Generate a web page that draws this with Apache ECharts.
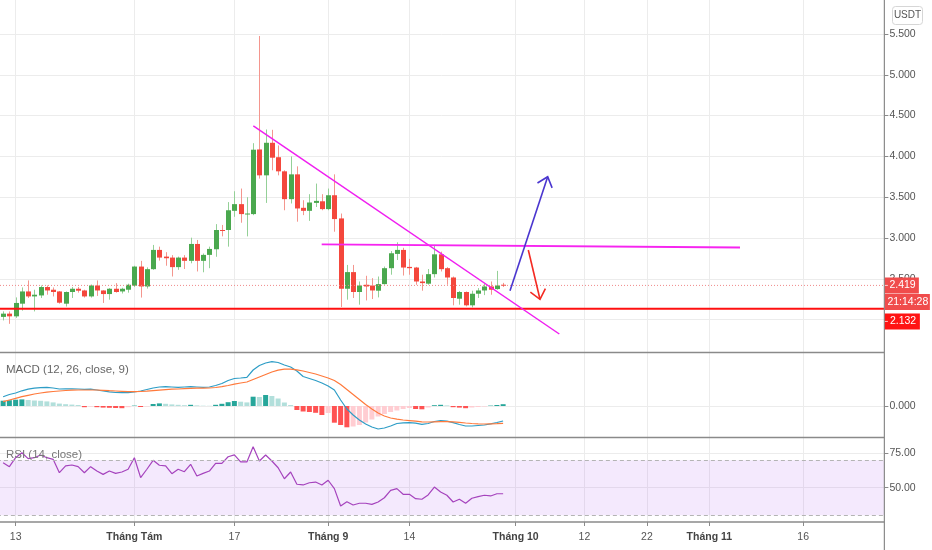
<!DOCTYPE html>
<html>
<head>
<meta charset="utf-8">
<script src="https://cdn.jsdelivr.net/npm/echarts@6/dist/echarts.min.js"></script>
<style>
html,body{margin:0;padding:0;background:#ffffff;}
#c{width:932px;height:550px;}
</style>
</head>
<body>
<div id="c"></div>
<script>
// ---------------- DATA ----------------
// axis domain: daily categories from 10 Jul to 29 Nov (one empty pad day before the first candle)
const axisStart = [2020, 6, 10];
const axisDays = 143;

// bottom axis tick labels
const tickDates = ['07-13', '08-01', '08-17', '09-01', '09-14', '10-01', '10-12', '10-22', '11-01', '11-16'];
const tickTexts = ['13', 'Tháng Tám', '17', 'Tháng 9', '14', 'Tháng 10', '12', '22', 'Tháng 11', '16'];
const tickIsMonth = [false, true, false, true, false, true, false, false, true, false];

// daily candles, 11 Jul .. 29 Sep
const opens = [2.033,2.073,2.040,2.195,2.345,2.284,2.296,2.399,2.366,2.345,
  2.195,2.338,2.378,2.357,2.284,2.418,2.357,2.313,2.378,2.345,
  2.366,2.415,2.650,2.406,2.618,2.854,2.772,2.760,2.643,2.760,
  2.720,2.927,2.720,2.793,2.862,3.098,3.098,3.333,3.415,3.293,
  3.293,4.085,3.768,4.167,3.990,3.817,3.476,3.780,3.370,3.333,
  3.430,3.450,3.354,3.524,3.240,2.378,2.582,2.338,2.427,2.418,
  2.354,2.435,2.630,2.805,2.854,2.646,2.638,2.467,2.440,2.557,
  2.800,2.630,2.516,2.256,2.338,2.175,2.317,2.357,2.406,2.374,
  2.427];
const highs = [2.101,2.100,2.272,2.394,2.480,2.366,2.418,2.418,2.394,2.350,
  2.345,2.400,2.400,2.366,2.430,2.480,2.360,2.386,2.447,2.390,
  2.440,2.660,2.720,2.640,2.915,2.894,2.826,2.790,2.772,2.790,
  3.004,2.976,2.810,2.894,3.170,3.160,3.440,3.573,3.606,3.500,
  4.162,5.476,4.330,4.326,4.134,3.830,4.000,3.878,3.463,3.537,
  3.667,3.537,3.606,3.780,3.300,2.670,2.670,2.467,2.537,2.508,
  2.528,2.650,2.840,2.947,2.880,2.744,2.646,2.550,2.620,2.915,
  2.833,2.643,2.528,2.350,2.345,2.354,2.386,2.440,2.467,2.597,
  2.450];
const lows = [1.990,1.948,2.021,2.110,2.265,2.100,2.265,2.305,2.284,2.195,
  2.160,2.265,2.330,2.270,2.270,2.290,2.204,2.244,2.330,2.320,
  2.330,2.400,2.270,2.380,2.610,2.723,2.660,2.528,2.610,2.620,
  2.690,2.590,2.580,2.630,2.770,3.020,2.894,3.260,3.187,3.020,
  3.280,3.728,3.430,3.830,3.768,3.340,3.423,3.200,3.280,3.210,
  3.380,3.340,3.340,3.077,2.155,2.244,2.265,2.183,2.235,2.252,
  2.272,2.427,2.550,2.730,2.540,2.550,2.427,2.354,2.427,2.516,
  2.590,2.427,2.175,2.183,2.162,2.150,2.265,2.300,2.305,2.366,
  2.400];
const closes = [2.073,2.040,2.204,2.345,2.284,2.305,2.399,2.357,2.338,2.207,
  2.338,2.378,2.354,2.284,2.418,2.357,2.313,2.378,2.338,2.378,
  2.427,2.650,2.406,2.618,2.854,2.760,2.752,2.643,2.760,2.720,
  2.927,2.720,2.793,2.866,3.098,3.090,3.340,3.415,3.293,3.300,
  4.082,3.768,4.167,3.984,3.817,3.476,3.780,3.362,3.333,3.435,
  3.455,3.354,3.524,3.232,2.378,2.582,2.338,2.418,2.406,2.357,
  2.435,2.630,2.813,2.854,2.638,2.630,2.467,2.447,2.557,2.800,
  2.618,2.516,2.265,2.338,2.175,2.317,2.357,2.406,2.366,2.418,
  2.419];

// MACD (12, 26, close, 9)
const macdLine = [0.093,0.115,0.130,0.152,0.168,0.178,0.184,0.187,0.180,0.170,
  0.172,0.172,0.170,0.167,0.168,0.160,0.150,0.142,0.135,0.133,
  0.133,0.140,0.150,0.165,0.180,0.190,0.193,0.190,0.187,0.190,
  0.193,0.190,0.187,0.190,0.205,0.225,0.255,0.275,0.280,0.287,
  0.360,0.405,0.430,0.443,0.435,0.410,0.390,0.350,0.295,0.275,
  0.255,0.230,0.200,0.160,0.060,-0.030,-0.090,-0.140,-0.180,-0.210,
  -0.230,-0.220,-0.200,-0.175,-0.168,-0.166,-0.172,-0.183,-0.175,-0.155,
  -0.145,-0.152,-0.167,-0.185,-0.200,-0.200,-0.195,-0.190,-0.178,-0.165,
  -0.150];
const signalLine = [0.043,0.060,0.077,0.093,0.107,0.120,0.130,0.138,0.145,0.150,
  0.155,0.158,0.160,0.160,0.160,0.160,0.157,0.153,0.150,0.147,
  0.144,0.143,0.145,0.148,0.153,0.158,0.163,0.168,0.170,0.173,
  0.176,0.178,0.178,0.180,0.185,0.193,0.205,0.218,0.230,0.240,
  0.265,0.290,0.315,0.340,0.358,0.368,0.368,0.362,0.350,0.335,
  0.320,0.300,0.280,0.255,0.215,0.165,0.115,0.065,0.015,-0.030,
  -0.070,-0.100,-0.120,-0.132,-0.140,-0.146,-0.152,-0.158,-0.160,-0.158,
  -0.156,-0.156,-0.158,-0.163,-0.170,-0.175,-0.178,-0.180,-0.178,-0.176,
  -0.173];
const macdHist = [0.053,0.058,0.063,0.066,0.060,0.055,0.052,0.046,0.036,0.024,
  0.018,0.014,0.010,-0.012,-0.006,-0.012,-0.016,-0.018,-0.020,-0.022,
  -0.012,0.004,-0.010,-0.004,0.020,0.026,0.022,0.016,0.012,0.008,
  0.012,0.006,0.003,0.002,0.012,0.022,0.038,0.050,0.043,0.036,
  0.093,0.090,0.110,0.100,0.075,0.035,0.010,-0.040,-0.055,-0.060,
  -0.068,-0.090,-0.070,-0.167,-0.190,-0.213,-0.205,-0.190,-0.165,-0.135,
  -0.105,-0.080,-0.060,-0.045,-0.030,-0.020,-0.030,-0.033,-0.015,0.008,
  0.012,0.006,-0.012,-0.016,-0.022,-0.015,-0.010,-0.005,0.004,0.010,
  0.018];

// RSI (14, close)
const rsiValues = [68.2,65.3,71.8,75.4,71.1,71.8,73.8,71.8,70.6,60.9,
  65.8,66.5,65.3,60.9,65.3,62.1,59.7,62.1,60.4,61.4,
  63.4,71.8,57.3,63.4,69.9,66.3,65.8,60.2,63.4,61.6,
  67.0,58.5,60.4,62.1,67.7,67.7,72.5,73.8,68.7,68.7,
  79.8,69.4,73.8,69.4,64.5,56.5,61.4,52.5,52.0,53.6,
  54.1,52.0,55.4,49.3,36.7,39.8,37.4,38.7,38.7,37.9,
  39.6,42.7,48.1,49.3,45.2,45.2,42.0,41.6,44.7,50.5,
  46.9,44.5,39.6,41.6,38.7,42.3,43.5,44.5,44.0,45.6,
  45.6];

// axis tick values
const priceTicks = [2.0, 2.5, 3.0, 3.5, 4.0, 4.5, 5.0, 5.5];
const macdTicks = [0];
const rsiTicks = [50, 75];
const rsiBand = [30, 70];

// price tags
const lastPrice = 2.419;
const supportLevel = 2.132;
const countdownText = '21:14:28';
const currencyText = 'USDT';

// user drawings: [day offset from first candle, price]
const trendLine = [[40.03, 4.373], [88.99, 1.8235]];
const neckLine = [[50.97, 2.923], [117.9, 2.8836]];
const upArrow = [[81.1, 2.354], [87.13, 3.751]];
const downArrow = [[84.03, 2.853], [85.9, 2.249]];

// ---------------- CHART ----------------
const FONT = '"Liberation Sans Narrow","Liberation Sans",Arial,sans-serif';
const AX_FS = 10.5;
const categories = [];
(function () {
  const t0 = Date.UTC(axisStart[0], axisStart[1], axisStart[2]);
  for (let k = 0; k < axisDays; k++) {
    const d = new Date(t0 + k * 86400000);
    categories.push(String(d.getUTCMonth() + 1).padStart(2, '0') + '-' + String(d.getUTCDate()).padStart(2, '0'));
  }
})();
const candleDates = categories.slice(1, 1 + closes.length);
const tickIdx = new Set(tickDates.map(d => categories.indexOf(d)));
const isTick = (i) => tickIdx.has(i);

const GREEN = '#4aa84e', RED = '#f4473c', GREEN_W = '#94d097', RED_W = '#f4968e';
const GRID_C = '#ececec', SEP_C = '#8a8a8a';

function xAx(gi, show) {
  return {
    type: 'category', gridIndex: gi, data: categories, boundaryGap: false,
    axisLine: { show: false },
    axisTick: { show: show, interval: isTick, length: 4, lineStyle: { color: SEP_C } },
    axisLabel: {
      show: show, interval: isTick, margin: 10, fontSize: AX_FS, fontFamily: FONT, color: '#555555',
      formatter: (v) => {
        const k = tickDates.indexOf(v);
        if (k < 0) return '';
        return tickIsMonth[k] ? '{m|' + tickTexts[k] + '}' : tickTexts[k];
      },
      rich: { m: { fontWeight: 'bold', fontSize: AX_FS, fontFamily: FONT, color: '#444444' } }
    },
    splitLine: { show: true, interval: isTick, lineStyle: { color: GRID_C, width: 1 } }
  };
}
function yAx(gi, min, max, ticks, digits) {
  return {
    type: 'value', gridIndex: gi, position: 'right', min: min, max: max, scale: true,
    axisLine: { show: false },
    axisTick: { show: true, customValues: ticks, length: 4, lineStyle: { color: SEP_C } },
    axisLabel: { customValues: ticks, margin: 5, fontSize: AX_FS, fontFamily: FONT, color: '#555555',
      formatter: (v) => Number(v).toFixed(digits) },
    splitLine: { show: true, lineStyle: { color: GRID_C, width: 1 } }
  };
}

function renderCandle(params, api) {
  const o = api.value(1), c = api.value(2), l = api.value(3), h = api.value(4);
  const i = api.value(0);
  const pO = api.coord([i, o]), pC = api.coord([i, c]);
  const pL = api.coord([i, l]), pH = api.coord([i, h]);
  const up = c >= o;
  const cx = Math.round(pO[0]);
  const top = Math.min(pO[1], pC[1]);
  let hgt = Math.abs(pO[1] - pC[1]);
  if (hgt < 1) hgt = 1;
  return {
    type: 'group',
    children: [
      { type: 'line', shape: { x1: cx + 0.5, y1: pH[1], x2: cx + 0.5, y2: pL[1] },
        style: { stroke: up ? GREEN_W : RED_W, lineWidth: 1 } },
      { type: 'rect', shape: { x: cx - 2, y: top, width: 5, height: hgt },
        style: { fill: up ? GREEN : RED } }
    ]
  };
}

const candleData = candleDates.map((d, i) => [d, opens[i], closes[i], lows[i], highs[i]]);
const histData = macdHist.map((v, i) => {
  const prev = i > 0 ? macdHist[i - 1] : v;
  let col;
  if (v >= 0) col = v >= prev ? '#26a69a' : '#b2dfdb';
  else col = v < prev ? '#ff5252' : '#ffcdd2';
  return { value: [candleDates[i], v], itemStyle: { color: col } };
});

const gridBase = { left: -3.125, right: 47.625, outerBoundsMode: 'none', containLabel: false };
const option = {
  animation: false,
  backgroundColor: '#ffffff',
  textStyle: { fontFamily: FONT },
  grid: [
    Object.assign({ top: 0, height: 352 }, gridBase),
    Object.assign({ top: 353, height: 84 }, gridBase),
    Object.assign({ top: 437.5, height: 84.5 }, gridBase)
  ],
  xAxis: [xAx(0, false), xAx(1, false), xAx(2, true)],
  yAxis: [
    yAx(0, 1.6029, 5.9167, priceTicks, 3),
    yAx(1, -0.31, 0.53, macdTicks, 3),
    yAx(2, 25.07, 86.48, rsiTicks, 2)
  ],
  series: [
    {
      type: 'custom', name: 'candles', xAxisIndex: 0, yAxisIndex: 0,
      dimensions: [{ name: 'date', type: 'ordinal' }, 'open', 'close', 'low', 'high'],
      encode: { x: 0, y: [1, 2, 3, 4] },
      renderItem: renderCandle, data: candleData, z: 3, silent: true
    },
    {
      type: 'bar', name: 'hist', xAxisIndex: 1, yAxisIndex: 1, data: histData,
      barWidth: 5, silent: true, z: 2
    },
    {
      type: 'line', name: 'macd', xAxisIndex: 1, yAxisIndex: 1,
      data: macdLine.map((v, i) => [candleDates[i], v]),
      symbol: 'none', lineStyle: { color: '#2e9dc6', width: 1.2 }, silent: true, z: 3
    },
    {
      type: 'line', name: 'signal', xAxisIndex: 1, yAxisIndex: 1,
      data: signalLine.map((v, i) => [candleDates[i], v]),
      symbol: 'none', lineStyle: { color: '#ff7a3c', width: 1.2 }, silent: true, z: 3
    },
    {
      type: 'line', name: 'rsi', xAxisIndex: 2, yAxisIndex: 2,
      data: rsiValues.map((v, i) => [candleDates[i], v]),
      symbol: 'none', lineStyle: { color: '#a543bd', width: 1.2 }, silent: true, z: 3,
      markArea: {
        silent: true,
        itemStyle: { color: 'rgba(150,40,240,0.10)' },
        data: [[{ xAxis: categories[0], yAxis: rsiBand[0] }, { xAxis: categories[categories.length - 1], yAxis: rsiBand[1] }]]
      },
      markLine: {
        silent: true, symbol: ['none', 'none'], label: { show: false },
        lineStyle: { color: '#b4b4b4', type: [4, 3], width: 1 },
        data: [{ yAxis: rsiBand[1] }, { yAxis: rsiBand[0] }]
      }
    }
  ]
};

const chart = echarts.init(document.getElementById('c'));
chart.setOption(option);

// ---------- overlays computed from the chart's own scales ----------
const xa = chart.convertToPixel({ xAxisIndex: 0 }, categories[0]);
const xb = chart.convertToPixel({ xAxisIndex: 0 }, categories[1]);
const xP = (d) => xa + (d + 1) * (xb - xa);
const yP = (v) => chart.convertToPixel({ yAxisIndex: 0 }, v);
const pt = (p) => [xP(p[0]), yP(p[1])];
const axisX = chart.convertToPixel({ xAxisIndex: 0 }, categories[categories.length - 1]);

function seg(a, b, color, w) {
  return { type: 'polyline', z: 20, silent: true, shape: { points: [a, b] },
    style: { stroke: color, lineWidth: w, fill: null } };
}
function arrow(line, color) {
  const tail = pt(line[0]), tip = pt(line[1]);
  const dx = tail[0] - tip[0], dy = tail[1] - tip[1];
  const L = Math.hypot(dx, dy), ux = dx / L, uy = dy / L;
  const len = 12, ang = 40 * Math.PI / 180;
  const rot = (a) => [tip[0] + len * (ux * Math.cos(a) - uy * Math.sin(a)), tip[1] + len * (ux * Math.sin(a) + uy * Math.cos(a))];
  return [
    seg(tail, tip, color, 1.6),
    { type: 'polyline', z: 20, silent: true, shape: { points: [rot(ang), tip, rot(-ang)] },
      style: { stroke: color, lineWidth: 1.6, fill: null } }
  ];
}
function tag(y, text, w, color, withDash, textOff) {
  const els = [
    { type: 'rect', z: 30, silent: true, shape: { x: axisX + 0.5, y: y - 8, width: w, height: 16 }, style: { fill: color } },
    { type: 'text', z: 31, silent: true, x: axisX + textOff, y: y,
      style: { text: text, fill: '#ffffff', font: AX_FS + 'px ' + FONT, verticalAlign: 'middle', textAlign: 'left' } }
  ];
  if (withDash) els.push({ type: 'line', z: 31, silent: true, shape: { x1: axisX + 0.5, y1: y, x2: axisX + 3.5, y2: y },
    style: { stroke: 'rgba(255,255,255,0.75)', lineWidth: 1 } });
  return els;
}

const yLast = yP(lastPrice);
const ySup = yP(supportLevel);
const yCount = yLast + 16.5;
const ySupTag = Math.max(ySup, yCount + 19.5);
const xR = axisX;

let g = [];
// price lines
g.push({ type: 'line', z: 5, silent: true, shape: { x1: 0, y1: yLast, x2: xR, y2: yLast },
  style: { stroke: '#f08a8a', lineWidth: 1, lineDash: [1, 2] } });
g.push({ type: 'line', z: 6, silent: true, shape: { x1: 0, y1: ySup, x2: xR, y2: ySup },
  style: { stroke: '#ff1010', lineWidth: 2 } });
// drawings
g.push(seg(pt(trendLine[0]), pt(trendLine[1]), '#f01ef0', 1.5));
g.push(seg(pt(neckLine[0]), pt(neckLine[1]), '#f624f0', 1.8));
g = g.concat(arrow(upArrow, '#4a36cf'));
g = g.concat(arrow(downArrow, '#f42a22'));
// pane separators and right axis line
[352.5, 437.5, 522].forEach(y => g.push({ type: 'line', z: 25, silent: true,
  shape: { x1: 0, y1: y, x2: xR, y2: y }, style: { stroke: SEP_C, lineWidth: 1.5 } }));
g.push({ type: 'line', z: 25, silent: true, shape: { x1: xR, y1: 0, x2: xR, y2: 550 },
  style: { stroke: SEP_C, lineWidth: 1.2 } });
// price tags
g = g.concat(tag(yLast, lastPrice.toFixed(3), 34, '#f04c4c', true, 5));
g = g.concat(tag(yCount, countdownText, 45, '#f04c4c', false, 3));
g = g.concat(tag(ySupTag, supportLevel.toFixed(3), 35, '#ff1414', true, 5.5));
// currency box
g.push({ type: 'rect', z: 30, silent: true, shape: { x: 892.5, y: 6.5, width: 30, height: 18, r: 3 },
  style: { fill: '#ffffff', stroke: '#d6d6d6', lineWidth: 1 } });
g.push({ type: 'text', z: 31, silent: true, x: 907.5, y: 15.5,
  style: { text: currencyText, fill: '#555555', font: '10px ' + FONT, textAlign: 'center', verticalAlign: 'middle' } });
// indicator titles
g.push({ type: 'text', z: 31, silent: true, x: 6, y: 370,
  style: { text: 'MACD (12, 26, close, 9)', fill: '#666666', font: '11.5px ' + FONT, verticalAlign: 'middle' } });
g.push({ type: 'text', z: 31, silent: true, x: 6, y: 454.5,
  style: { text: 'RSI (14, close)', fill: '#777777', font: '11.5px ' + FONT, verticalAlign: 'middle' } });

chart.setOption({ graphic: { elements: g } });
</script>
</body>
</html>
